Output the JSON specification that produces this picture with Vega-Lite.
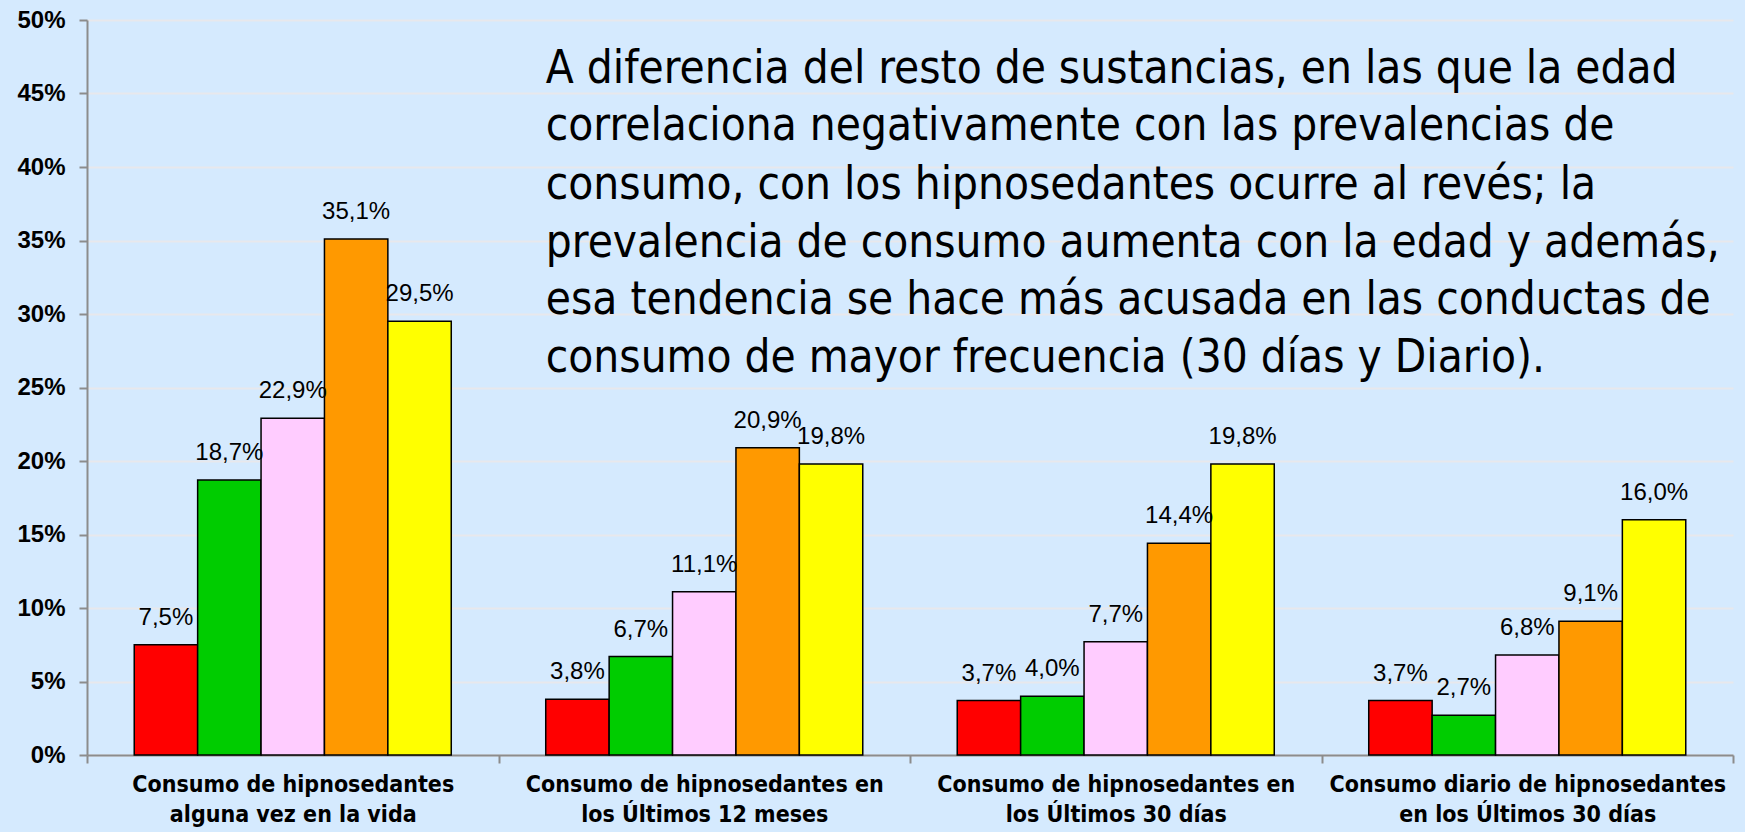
{
  "$schema": "https://vega.github.io/schema/vega-lite/v6.json",
  "width": 1646,
  "height": 735,
  "autosize": {"type": "none"},
  "padding": {"left": 87, "top": 20, "right": 12, "bottom": 77},
  "background": "#D5EAFE",
  "config": {
    "view": {"stroke": null},
    "locale": {"number": {"decimal": ",", "thousands": ".", "grouping": [3], "currency": ["", " €"]}}
  },
  "datasets": {
    "bars": [
      {"cat": "Consumo de hipnosedantes|alguna vez en la vida", "grupo": "15-24", "value": 0.075},
      {"cat": "Consumo de hipnosedantes|alguna vez en la vida", "grupo": "25-34", "value": 0.187},
      {"cat": "Consumo de hipnosedantes|alguna vez en la vida", "grupo": "35-44", "value": 0.229},
      {"cat": "Consumo de hipnosedantes|alguna vez en la vida", "grupo": "45-54", "value": 0.351},
      {"cat": "Consumo de hipnosedantes|alguna vez en la vida", "grupo": "55-64", "value": 0.295},
      {"cat": "Consumo de hipnosedantes en|los Últimos 12 meses", "grupo": "15-24", "value": 0.038},
      {"cat": "Consumo de hipnosedantes en|los Últimos 12 meses", "grupo": "25-34", "value": 0.067},
      {"cat": "Consumo de hipnosedantes en|los Últimos 12 meses", "grupo": "35-44", "value": 0.111},
      {"cat": "Consumo de hipnosedantes en|los Últimos 12 meses", "grupo": "45-54", "value": 0.209},
      {"cat": "Consumo de hipnosedantes en|los Últimos 12 meses", "grupo": "55-64", "value": 0.198},
      {"cat": "Consumo de hipnosedantes en|los Últimos 30 días", "grupo": "15-24", "value": 0.037},
      {"cat": "Consumo de hipnosedantes en|los Últimos 30 días", "grupo": "25-34", "value": 0.040},
      {"cat": "Consumo de hipnosedantes en|los Últimos 30 días", "grupo": "35-44", "value": 0.077},
      {"cat": "Consumo de hipnosedantes en|los Últimos 30 días", "grupo": "45-54", "value": 0.144},
      {"cat": "Consumo de hipnosedantes en|los Últimos 30 días", "grupo": "55-64", "value": 0.198},
      {"cat": "Consumo diario de hipnosedantes|en los Últimos 30 días", "grupo": "15-24", "value": 0.037},
      {"cat": "Consumo diario de hipnosedantes|en los Últimos 30 días", "grupo": "25-34", "value": 0.027},
      {"cat": "Consumo diario de hipnosedantes|en los Últimos 30 días", "grupo": "35-44", "value": 0.068},
      {"cat": "Consumo diario de hipnosedantes|en los Últimos 30 días", "grupo": "45-54", "value": 0.091},
      {"cat": "Consumo diario de hipnosedantes|en los Últimos 30 días", "grupo": "55-64", "value": 0.160}
    ],
    "nota": [
      {"cat": "Consumo de hipnosedantes en|los Últimos 12 meses", "value": 0.4667, "linea": "A diferencia del resto de sustancias, en las que la edad"},
      {"cat": "Consumo de hipnosedantes en|los Últimos 12 meses", "value": 0.4279, "linea": "correlaciona negativamente con las prevalencias de"},
      {"cat": "Consumo de hipnosedantes en|los Últimos 12 meses", "value": 0.3878, "linea": "consumo, con los hipnosedantes ocurre al revés; la"},
      {"cat": "Consumo de hipnosedantes en|los Últimos 12 meses", "value": 0.3483, "linea": "prevalencia de consumo aumenta con la edad y además,"},
      {"cat": "Consumo de hipnosedantes en|los Últimos 12 meses", "value": 0.3092, "linea": "esa tendencia se hace más acusada en las conductas de"},
      {"cat": "Consumo de hipnosedantes en|los Últimos 12 meses", "value": 0.2701, "linea": "consumo de mayor frecuencia (30 días y Diario)."}
    ]
  },
  "layer": [
    {
      "data": {"name": "bars"},
      "mark": {"type": "bar", "stroke": "#000000", "strokeWidth": 1.5},
      "encoding": {
        "x": {
          "field": "cat", "type": "nominal", "sort": null,
          "scale": {"paddingInner": 0, "paddingOuter": 0},
          "axis": {
            "title": null,
            "labelAngle": 0,
            "labelExpr": "split(datum.label, '|')",
            "labelFont": "DejaVu Sans Condensed",
            "labelFontWeight": "bold",
            "labelFontSize": 23,
            "labelLineHeight": 30,
            "labelColor": "#000000",
            "labelPadding": 10,
            "labelLimit": 0,
            "tickBand": "extent",
            "ticks": true,
            "tickSize": 8,
            "tickColor": "#8C8C8C",
            "tickWidth": 2,
            "domainColor": "#8C8C8C",
            "domainWidth": 2,
            "grid": false
          }
        },
        "xOffset": {
          "field": "grupo", "type": "nominal", "sort": null,
          "scale": {"paddingInner": 0, "paddingOuter": 0.745}
        },
        "y": {
          "field": "value", "type": "quantitative",
          "scale": {"domain": [0, 0.5], "nice": false},
          "axis": {
            "title": null,
            "format": ".0%",
            "values": [0, 0.05, 0.1, 0.15, 0.2, 0.25, 0.3, 0.35, 0.4, 0.45, 0.5],
            "labelFont": "Liberation Sans",
            "labelFontWeight": "bold",
            "labelFontSize": 24,
            "labelColor": "#000000",
            "labelPadding": 14,
            "tickSize": 8,
            "tickColor": "#8C8C8C",
            "tickWidth": 2,
            "domainColor": "#8C8C8C",
            "domainWidth": 2,
            "grid": true,
            "gridColor": "#E8E8EC",
            "gridWidth": 2
          }
        },
        "color": {
          "field": "grupo", "type": "nominal", "sort": null, "legend": null,
          "scale": {"domain": ["15-24", "25-34", "35-44", "45-54", "55-64"], "range": ["#FF0000", "#00CC00", "#FFCCFF", "#FF9900", "#FFFF00"]}
        }
      }
    },
    {
      "data": {"name": "bars"},
      "mark": {"type": "text", "font": "Liberation Sans", "fontSize": 24, "color": "#000000", "baseline": "middle", "dy": -27},
      "encoding": {
        "x": {"field": "cat", "type": "nominal", "sort": null},
        "xOffset": {"field": "grupo", "type": "nominal", "sort": null},
        "y": {"field": "value", "type": "quantitative"},
        "text": {"field": "value", "type": "quantitative", "format": ".1%"}
      }
    },
    {
      "data": {"name": "nota"},
      "mark": {"type": "text", "font": "DejaVu Sans Condensed", "fontSize": 45.5, "color": "#000000", "align": "left", "baseline": "middle"},
      "encoding": {
        "x": {"field": "cat", "type": "nominal", "sort": null, "bandPosition": 0.115},
        "y": {"field": "value", "type": "quantitative"},
        "text": {"field": "linea", "type": "nominal"}
      }
    }
  ]
}
